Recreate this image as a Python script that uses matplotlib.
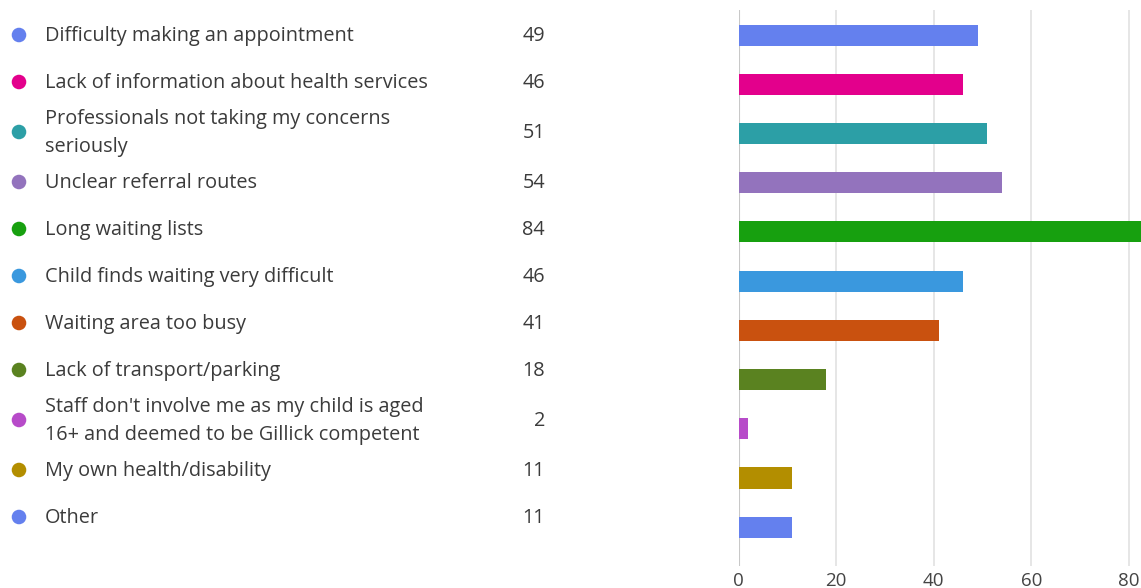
import matplotlib
matplotlib.use('Agg')
import matplotlib.pyplot as plt

# survey responses: barriers to accessing health services
categories = [
    'Difficulty making an appointment',
    'Lack of information about health services',
    'Professionals not taking my concerns\nseriously',
    'Unclear referral routes',
    'Long waiting lists',
    'Child finds waiting very difficult',
    'Waiting area too busy',
    'Lack of transport/parking',
    "Staff don't involve me as my child is aged\n16+ and deemed to be Gillick competent",
    'My own health/disability',
    'Other',
]
counts = [49, 46, 51, 54, 84, 46, 41, 18, 2, 11, 11]
colors = ['#6480ee', '#e3008c', '#2c9fa6', '#9373bd', '#17a00f', '#3a98de',
          '#c9510f', '#5a8220', '#b74bc9', '#b38e00', '#6480ee']
xticks = [0, 20, 40, 60, 80]

text_color = '#3b3b3b'
plt.rcParams['font.family'] = ['Open Sans', 'DejaVu Sans']

W, H = 1141, 588
fig = plt.figure(figsize=(W / 100, H / 100), dpi=100)

# bar chart on the right
ax = fig.add_axes([738.5 / W, 1 - 566 / H, 1 - 738.5 / W, 556 / H])
ypos = list(range(len(counts)))
ax.barh(ypos, counts, height=0.43, color=colors, zorder=3)
ax.set_xlim(0, 402.5 / 4.88)
ax.set_ylim(len(counts) - 0.21, -0.51)
ax.set_xticks(xticks)
ax.set_xticklabels([str(t) for t in xticks])
ax.set_yticks([])
ax.grid(axis='x', color='#e1e1e1', linewidth=1.2, zorder=0)
ax.axvline(0, color='#c8c8c8', linewidth=1.5, zorder=2)
for s in ax.spines.values():
    s.set_visible(False)
ax.tick_params(axis='x', length=0, pad=4, labelsize=13.5, labelcolor='#444444')

# legend list on the left, in pixel coordinates
lg = fig.add_axes([0, 0, 1, 1])
lg.set_xlim(0, W)
lg.set_ylim(H, 0)
lg.axis('off')
lg.patch.set_alpha(0)

y = 35
for i, (cat, n, c) in enumerate(zip(categories, counts, colors)):
    two_lines = '\n' in cat
    if two_lines:
        y += 3
    lg.scatter([19], [y], s=110, color=c, edgecolors='none')
    lg.text(45, y + 1, cat, va='center', ha='left', fontsize=14.3,
            color=text_color, linespacing=1.48)
    lg.text(545, y + 1, str(n), va='center', ha='right', fontsize=14.3,
            color=text_color)
    if two_lines:
        y += 3
    y += 47

fig.savefig('out.png', dpi=100, facecolor='white')
